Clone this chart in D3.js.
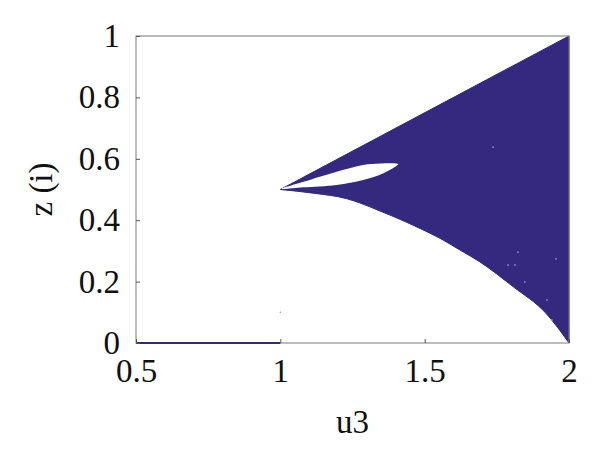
<!DOCTYPE html>
<html>
<head>
<meta charset="utf-8">
<script src="https://d3js.org/d3.v7.min.js"></script>
<style>
  body { margin: 0; background: #fff; }
  svg text { font-family: "Liberation Serif", serif !important; fill: #111; }
</style>
</head>
<body>
<script>
// chart values
var xTicks = [0.5, 1, 1.5, 2];
var yTicks = [0, 0.2, 0.4, 0.6, 0.8, 1];

// upper edge of the chaotic band (straight)
var upperU = [1.0, 2.0];
var upperZ = [0.5, 1.0];

// lower edge of the band
var lowerU = [1.0, 1.114, 1.23, 1.276, 1.345, 1.414, 1.484, 1.553, 1.622, 1.69, 1.807, 1.92, 2.0];
var lowerZ = [0.5, 0.488, 0.47, 0.456, 0.43, 0.403, 0.373, 0.341, 0.303, 0.265, 0.183, 0.097, 0.0];

// white window inside the band
var holeTopU = [1.005, 1.08, 1.195, 1.287, 1.345, 1.408];
var holeTopZ = [0.502, 0.525, 0.558, 0.58, 0.585, 0.583];
var holeBotU = [1.403, 1.357, 1.287, 1.195, 1.08];
var holeBotZ = [0.577, 0.553, 0.531, 0.515, 0.507];

// fixed point branch before the bifurcation
var fixedU = [0.5, 1.0];
var fixedZ = [0.0, 0.0];

// isolated white specks inside the band
var speckU = [1.789, 1.813, 1.823, 1.924, 1.941, 1.955, 1.847, 1.737];
var speckZ = [0.254, 0.254, 0.296, 0.14, 0.075, 0.274, 0.199, 0.638];

var margin = {top: 36, right: 31, bottom: 113, left: 136};
var width = 600 - margin.left - margin.right;
var height = 456 - margin.top - margin.bottom;

var svg = d3.select("body").append("svg")
    .attr("width", 600)
    .attr("height", 456)
    .append("g")
    .attr("transform", "translate(" + margin.left + "," + margin.top + ")");

var x = d3.scaleLinear().domain([0.5, 2]).range([0, width]);
var y = d3.scaleLinear().domain([0, 1]).range([height, 0]);

var ink = "#35287f";

var line = d3.line()
    .x(d => x(d[0]))
    .y(d => y(d[1]));

var smooth = d3.line()
    .x(d => x(d[0]))
    .y(d => y(d[1]))
    .curve(d3.curveMonotoneX);

// band outline: lower edge out to u=2, up the right side, back along the upper edge
var lower = lowerU.map((u, i) => [u, lowerZ[i]]);
var upper = upperU.map((u, i) => [u, upperZ[i]]).reverse();
var bandPath = smooth(lower) + line(upper).replace("M", "L") + "Z";

svg.append("path")
    .attr("d", bandPath)
    .attr("fill", ink)
    .attr("stroke", ink)
    .attr("stroke-width", 1);

var hole = holeTopU.map((u, i) => [u, holeTopZ[i]])
    .concat(holeBotU.map((u, i) => [u, holeBotZ[i]]));

svg.append("path")
    .attr("d", d3.line()
        .x(d => x(d[0]))
        .y(d => y(d[1]))
        .curve(d3.curveCatmullRomClosed)(hole))
    .attr("fill", "#fff");

svg.selectAll(".speck")
    .data(speckU.map((u, i) => [u, speckZ[i]]))
    .enter().append("circle")
    .attr("class", "speck")
    .attr("cx", d => x(d[0]))
    .attr("cy", d => y(d[1]))
    .attr("r", 0.9)
    .attr("fill", "#8e87bf");

svg.append("circle")
    .attr("cx", x(1.0))
    .attr("cy", y(0.1))
    .attr("r", 0.8)
    .attr("fill", "#999");

// frame
svg.append("rect")
    .attr("width", width)
    .attr("height", height)
    .attr("fill", "none")
    .attr("stroke", "#7a7a7a")
    .attr("stroke-width", 1);

svg.append("path")
    .attr("d", line(fixedU.map((u, i) => [u, fixedZ[i]])))
    .attr("fill", "none")
    .attr("stroke", ink)
    .attr("stroke-width", 2);

var xAxis = d3.axisBottom(x)
    .tickValues(xTicks)
    .tickSize(-4)
    .tickPadding(14)
    .tickFormat(d => d);

var yAxis = d3.axisLeft(y)
    .tickValues(yTicks)
    .tickSize(-4)
    .tickPadding(16)
    .tickFormat(d => d);

var gx = svg.append("g")
    .attr("transform", "translate(0," + height + ")")
    .call(xAxis);

var gy = svg.append("g")
    .call(yAxis);

[gx, gy].forEach(g => {
    g.attr("font-family", null).attr("font-size", null);
    g.select(".domain").remove();
    g.selectAll("line").attr("stroke", "#555");
    g.selectAll("text")
        .attr("font-size", "33px")
        .attr("fill", "#111");
});
gx.selectAll("text").attr("dy", "0.75em");

svg.append("text")
    .attr("x", x(1.25))
    .attr("y", height + 90)
    .attr("text-anchor", "middle")
    .attr("font-size", "33px")
    .text("u3");

svg.append("text")
    .attr("transform", "rotate(-90)")
    .attr("x", -y(0.5))
    .attr("y", -84)
    .attr("text-anchor", "middle")
    .attr("font-size", "33px")
    .text("z (i)");
</script>
</body>
</html>
